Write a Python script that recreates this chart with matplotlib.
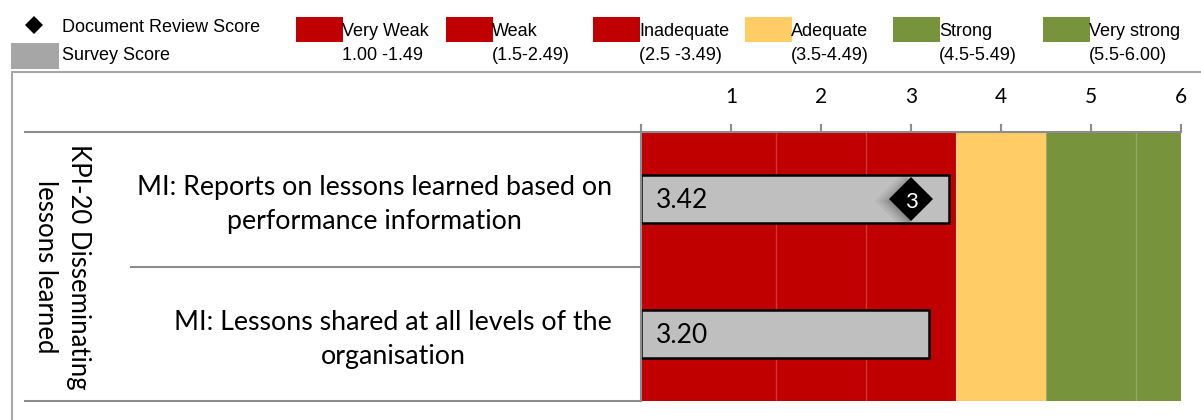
import matplotlib
matplotlib.use("Agg")
import matplotlib.pyplot as plt
import matplotlib.transforms as mtransforms
from matplotlib.lines import Line2D
from matplotlib.patches import Rectangle

# data
group_label = "KPI-20 Disseminating\nlessons learned"
indicators = ["MI: Reports on lessons learned based on\nperformance information",
              "MI: Lessons shared at all levels of the\norganisation"]
survey_scores = [3.42, 3.20]
doc_scores = [3, None]

band_names = ["Very Weak", "Weak", "Inadequate", "Adequate", "Strong", "Very strong"]
band_ranges = ["1.00 -1.49", "(1.5-2.49)", "(2.5 -3.49)", "(3.5-4.49)", "(4.5-5.49)", "(5.5-6.00)"]
band_edges = [0, 1.5, 2.5, 3.5, 4.5, 5.5, 6.0]
band_colors = ["#C00000", "#C00000", "#C00000", "#FFCC66", "#77933C", "#77933C"]
ticks = [0, 1, 2, 3, 4, 5, 6]
tick_labels = ["", "1", "2", "3", "4", "5", "6"]

W, H = 1201, 420
CAL = "Lato"
ARIAL = "Liberation Sans"
GRID = "#8C8C8C"


def px(x, y):
    # pixel (top-left origin) -> figure fraction
    return x / W, 1 - y / H


fig = plt.figure(figsize=(W / 100, H / 100), dpi=100)
ax = fig.add_axes([641 / W, 1 - 401 / H, 540 / W, 269 / H])

# background bands
for lo, hi, c in zip(band_edges[:-1], band_edges[1:], band_colors):
    ax.axvspan(lo, hi, color=c, lw=0, zorder=0)
for e in band_edges[1:-1]:
    ax.axvline(e, color="white", alpha=0.22, lw=1, zorder=1)

ypos = list(range(len(indicators)))
ax.barh(ypos, survey_scores, height=0.36, color="#BFBFBF",
        edgecolor="black", linewidth=1.8, zorder=2)
for y, v in zip(ypos, survey_scores):
    ax.text(0.17, y + 0.01, f"{v:.2f}", va="center", ha="left",
            fontsize=19, family=CAL, zorder=5)

# document review diamonds (with a soft shadow)
for y, d in zip(ypos, doc_scores):
    if d is None:
        continue
    for k, a in enumerate([0.05, 0.06, 0.08, 0.1]):
        ax.plot(d - 0.02 - 0.025 * (3 - k), y + 0.01, marker="D", ms=22 + 2 * (3 - k),
                color="black", alpha=a, mew=0, zorder=3)
    ax.plot(d, y, marker="D", ms=22, color="black", mew=0, zorder=4)
    ax.text(d, y + 0.02, f"{d}", color="white", ha="center", va="center",
            fontsize=16, family=CAL, zorder=5)

ax.set_xlim(0, 6)
ax.set_ylim(len(indicators) - 0.5, -0.5)
ax.xaxis.tick_top()
ax.set_xticks(ticks)
ax.set_xticklabels(tick_labels, family=CAL, fontsize=15)
ax.tick_params(axis="x", direction="out", length=6, width=1.5, color=GRID, pad=12)
ax.set_yticks([])
for s in ["right", "bottom"]:
    ax.spines[s].set_visible(False)
for s in ["top", "left"]:
    ax.spines[s].set_color(GRID)
    ax.spines[s].set_linewidth(1.5)

# table on the left
trans = mtransforms.blended_transform_factory(fig.transFigure, ax.transData)
x_ax = 641 / W
for yb in [-0.5, len(indicators) - 0.5]:
    fig.add_artist(Line2D([25 / W, x_ax], [yb, yb], color=GRID, lw=1.5, transform=trans))
for yb in [i + 0.5 for i in ypos[:-1]]:
    fig.add_artist(Line2D([131 / W, x_ax], [yb, yb], color=GRID, lw=1.5, transform=trans))

for y, lab in zip(ypos, indicators):
    fig.text(612 / W, y + 0.04, lab, transform=trans, ha="right", va="center",
             multialignment="center", fontsize=19.3, family=CAL, linespacing=1.45)
fig.text(62 / W, (len(indicators) - 1) / 2, group_label, transform=trans,
         rotation=-90, ha="center", va="center", multialignment="center",
         fontsize=18.5, family=CAL, linespacing=1.4)

# outer chart frame
fx, fy = px(12, 72)
fig.add_artist(Line2D([fx, fx, 1], [0, fy, fy], color="#A6A6A6", lw=1.5))

# legend
x, y = px(34, 25)
fig.add_artist(Line2D([x], [y], marker="D", ms=9, color="black", mew=0))
fig.text(*px(62, 27), "Document Review Score", fontsize=13, family=ARIAL, va="center")
x0, y0 = px(11, 69)
fig.add_artist(Rectangle((x0, y0), 48 / W, 26 / H, color="#A6A6A6", lw=0))
fig.text(*px(62, 56), "Survey Score", fontsize=13, family=ARIAL, va="center")

patch_left = [296, 446, 593, 745, 893, 1043]
for xl, name, rng, c in zip(patch_left, band_names, band_ranges, band_colors):
    rx, ry = px(xl, 42)
    fig.add_artist(Rectangle((rx, ry), 47 / W, 25 / H, color=c, lw=0))
    fig.text(*px(xl + 46, 32), name, fontsize=13, family=ARIAL, va="center")
    fig.text(*px(xl + 46, 55), rng, fontsize=13, family=ARIAL, va="center")

fig.savefig("out.png", dpi=100)
